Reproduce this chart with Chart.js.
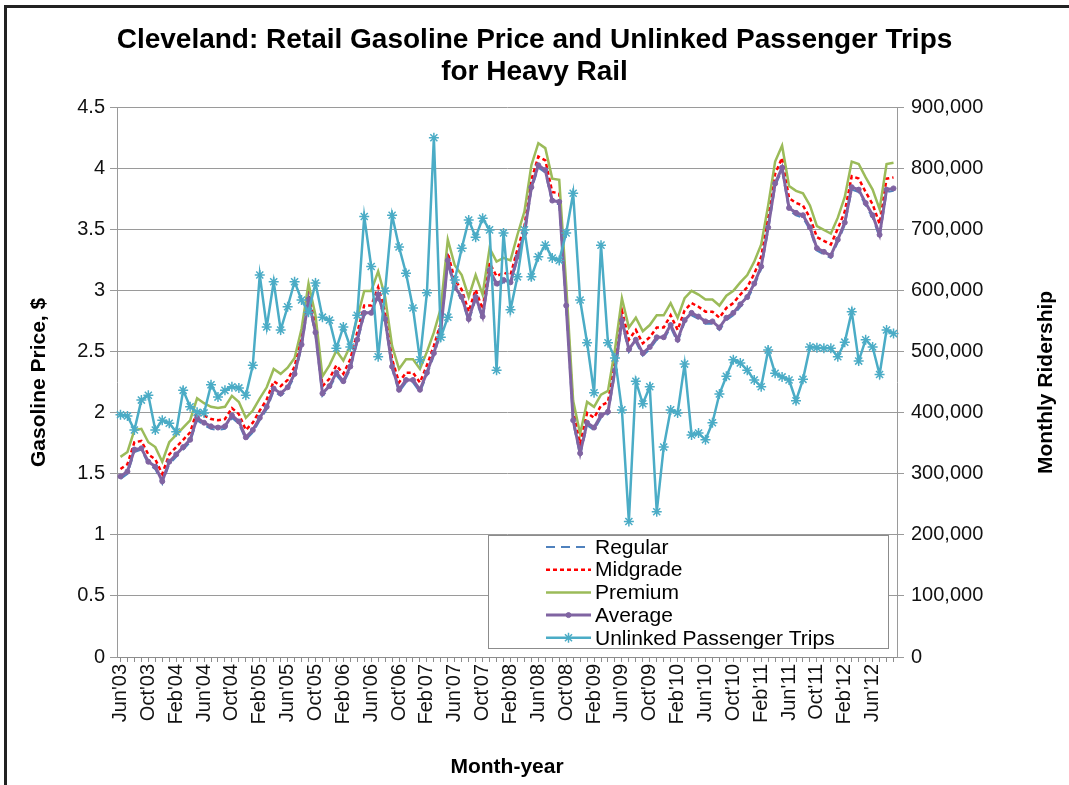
<!DOCTYPE html>
<html><head><meta charset="utf-8">
<script src="https://cdn.jsdelivr.net/npm/chart.js@4.4.0/dist/chart.umd.min.js"></script>
<style>
html,body{margin:0;padding:0;background:#fff;}
#wrap{position:relative;width:1069px;height:785px;overflow:hidden;}
#frame{position:absolute;left:4px;top:5px;width:1080px;height:800px;border-left:3px solid #222;border-top:3px solid #222;box-sizing:border-box;pointer-events:none;}
canvas{position:absolute;left:0;top:0;}
</style></head><body>
<div id="wrap"><canvas id="c" width="1069" height="785"></canvas><div id="frame"></div></div>
<script>
const categories = [
"Jun'03","Jul'03","Aug'03","Sep'03","Oct'03","Nov'03","Dec'03",
"Jan'04","Feb'04","Mar'04","Apr'04","May'04","Jun'04","Jul'04","Aug'04","Sep'04","Oct'04","Nov'04","Dec'04",
"Jan'05","Feb'05","Mar'05","Apr'05","May'05","Jun'05","Jul'05","Aug'05","Sep'05","Oct'05","Nov'05","Dec'05",
"Jan'06","Feb'06","Mar'06","Apr'06","May'06","Jun'06","Jul'06","Aug'06","Sep'06","Oct'06","Nov'06","Dec'06",
"Jan'07","Feb'07","Mar'07","Apr'07","May'07","Jun'07","Jul'07","Aug'07","Sep'07","Oct'07","Nov'07","Dec'07",
"Jan'08","Feb'08","Mar'08","Apr'08","May'08","Jun'08","Jul'08","Aug'08","Sep'08","Oct'08","Nov'08","Dec'08",
"Jan'09","Feb'09","Mar'09","Apr'09","May'09","Jun'09","Jul'09","Aug'09","Sep'09","Oct'09","Nov'09","Dec'09",
"Jan'10","Feb'10","Mar'10","Apr'10","May'10","Jun'10","Jul'10","Aug'10","Sep'10","Oct'10","Nov'10","Dec'10",
"Jan'11","Feb'11","Mar'11","Apr'11","May'11","Jun'11","Jul'11","Aug'11","Sep'11","Oct'11","Nov'11","Dec'11",
"Jan'12","Feb'12","Mar'12","Apr'12","May'12","Jun'12","Jul'12","Aug'12","Sep'12"];

const tickLabels = ["Jun'03","Oct'03","Feb'04","Jun'04","Oct'04","Feb'05","Jun'05","Oct'05","Feb'06","Jun'06",
"Oct'06","Feb'07","Jun'07","Oct'07","Feb'08","Jun'08","Oct'08","Feb'09","Jun'09","Oct'09",
"Feb'10","Jun'10","Oct'10","Feb'11","Jun'11","Oct'11","Feb'12","Jun'12"];

const priceTicks = [0,0.5,1,1.5,2,2.5,3,3.5,4,4.5];
const ridershipTicks = [0,100000,200000,300000,400000,500000,600000,700000,800000,900000];

const regular = [
1.46,1.50,1.68,1.70,1.58,1.54,1.42,1.58,1.64,1.70,
1.76,1.94,1.90,1.87,1.86,1.87,1.96,1.91,1.78,1.84,
1.94,2.03,2.18,2.14,2.19,2.30,2.54,2.91,2.64,2.14,
2.20,2.31,2.24,2.36,2.58,2.80,2.80,2.95,2.75,2.36,
2.17,2.25,2.25,2.17,2.31,2.47,2.66,3.23,3.01,2.93,
2.75,2.93,2.77,3.15,3.04,3.07,3.05,3.26,3.45,3.83,
4.01,3.97,3.72,3.71,2.86,1.92,1.65,1.90,1.86,1.96,
1.99,2.33,2.74,2.50,2.58,2.47,2.52,2.60,2.60,2.70,
2.58,2.74,2.80,2.77,2.73,2.73,2.68,2.76,2.80,2.87,
2.93,3.04,3.18,3.50,3.86,3.99,3.66,3.62,3.60,3.50,
3.33,3.30,3.27,3.40,3.54,3.83,3.81,3.70,3.60,3.44,
3.81,3.82];

const midgrade = [
1.54,1.58,1.76,1.77,1.66,1.62,1.50,1.66,1.72,1.78,
1.84,2.02,1.98,1.95,1.94,1.95,2.04,1.99,1.86,1.92,
2.02,2.11,2.26,2.22,2.27,2.38,2.62,2.99,2.72,2.22,
2.28,2.39,2.32,2.44,2.66,2.88,2.88,3.03,2.83,2.44,
2.25,2.33,2.33,2.25,2.39,2.55,2.74,3.31,3.09,3.01,
2.83,3.01,2.85,3.23,3.12,3.15,3.13,3.34,3.53,3.91,
4.10,4.07,3.81,3.80,2.96,2.02,1.75,2.00,1.96,2.06,
2.09,2.43,2.84,2.60,2.68,2.57,2.62,2.70,2.70,2.80,
2.68,2.84,2.90,2.87,2.83,2.83,2.78,2.86,2.90,2.97,
3.03,3.14,3.28,3.60,3.96,4.09,3.76,3.72,3.70,3.60,
3.44,3.41,3.38,3.51,3.65,3.94,3.92,3.81,3.71,3.55,
3.92,3.93];

const premium = [
1.64,1.68,1.86,1.87,1.76,1.72,1.60,1.76,1.82,1.88,
1.94,2.12,2.08,2.05,2.04,2.05,2.14,2.09,1.96,2.02,
2.12,2.21,2.36,2.32,2.37,2.45,2.69,3.06,2.80,2.30,
2.39,2.51,2.43,2.55,2.78,3.00,3.00,3.16,2.95,2.55,
2.36,2.44,2.44,2.36,2.50,2.66,2.86,3.42,3.21,3.13,
2.95,3.13,2.97,3.35,3.24,3.27,3.25,3.46,3.65,4.03,
4.21,4.17,3.92,3.91,3.05,2.10,1.83,2.09,2.05,2.15,
2.18,2.52,2.94,2.70,2.78,2.67,2.72,2.80,2.80,2.90,
2.78,2.94,3.00,2.97,2.93,2.93,2.88,2.96,3.00,3.07,
3.13,3.24,3.38,3.70,4.06,4.19,3.86,3.82,3.80,3.70,
3.53,3.50,3.47,3.60,3.77,4.06,4.04,3.93,3.83,3.67,
4.04,4.05];

const average = [
1.48,1.52,1.70,1.71,1.60,1.56,1.44,1.60,1.66,1.72,
1.78,1.96,1.92,1.89,1.88,1.89,1.98,1.93,1.80,1.86,
1.96,2.05,2.20,2.16,2.21,2.32,2.56,2.93,2.66,2.16,
2.22,2.33,2.26,2.38,2.60,2.82,2.82,2.97,2.77,2.38,
2.19,2.27,2.27,2.19,2.33,2.49,2.68,3.25,3.03,2.95,
2.77,2.95,2.79,3.17,3.06,3.09,3.07,3.28,3.47,3.85,
4.03,3.99,3.74,3.73,2.88,1.94,1.67,1.92,1.88,1.98,
2.01,2.35,2.76,2.52,2.60,2.49,2.54,2.62,2.62,2.72,
2.60,2.76,2.82,2.79,2.75,2.75,2.70,2.78,2.82,2.89,
2.95,3.06,3.20,3.52,3.88,4.01,3.68,3.64,3.62,3.52,
3.35,3.32,3.29,3.42,3.56,3.85,3.83,3.72,3.62,3.46,
3.83,3.84];

const unlinkedTrips = [
397000,395000,372000,421000,429000,372000,388000,383000,369000,437000,
410000,401000,400000,446000,426000,437000,443000,441000,429000,478000,
626000,541000,615000,536000,574000,615000,585000,565000,613000,557000,
552000,506000,541000,508000,560000,722000,640000,492000,600000,724000,
672000,629000,572000,487000,597000,851000,524000,557000,618000,670000,
716000,688000,719000,700000,470000,695000,569000,623000,700000,623000,
656000,675000,654000,650000,695000,760000,585000,515000,433000,675000,
515000,490000,405000,222000,452000,415000,443000,238000,344000,405000,
400000,480000,364000,367000,356000,384000,431000,460000,487000,482000,
470000,454000,443000,503000,465000,459000,454000,420000,455000,508000,
507000,506000,506000,492000,516000,566000,485000,520000,508000,463000,
536000,530000];

const FONT = "'Liberation Sans', Arial, sans-serif";

const boxLegend = {
  id: 'boxLegend',
  afterDraw(chart, args, opts) {
    const ctx = chart.ctx;
    const ca = chart.chartArea;
    const bx = ca.right - opts.rightGap - opts.width;
    const by = ca.bottom - opts.bottomGap - opts.height;
    ctx.save();
    ctx.fillStyle = '#fff';
    ctx.fillRect(bx, by, opts.width, opts.height);
    ctx.strokeStyle = '#8c8c8c';
    ctx.lineWidth = 1;
    ctx.strokeRect(bx + 0.5, by + 0.5, opts.width, opts.height);
    ctx.font = opts.fontSize + 'px ' + FONT;
    ctx.textBaseline = 'middle';
    chart.data.datasets.forEach((ds, i) => {
      const cy = by + opts.firstRow + i * opts.rowStep;
      const x0 = bx + opts.lineStart, x1 = bx + opts.lineEnd;
      ctx.save();
      ctx.strokeStyle = ds.borderColor;
      ctx.lineWidth = ds.borderWidth;
      ctx.setLineDash(ds.borderDash || []);
      ctx.beginPath(); ctx.moveTo(x0, cy); ctx.lineTo(x1, cy); ctx.stroke();
      ctx.restore();
      if (ds.pointRadius > 0) {
        ctx.save();
        ctx.fillStyle = ds.pointBackgroundColor || ds.borderColor;
        ctx.strokeStyle = ds.pointBorderColor || ds.borderColor;
        ctx.lineWidth = ds.pointBorderWidth || 1;
        Chart.helpers.drawPoint(ctx, {pointStyle: ds.pointStyle, radius: ds.pointRadius,
          borderWidth: ds.pointBorderWidth || 1, rotation: 0}, (x0 + x1) / 2, cy);
        ctx.restore();
      }
      ctx.fillStyle = '#000';
      ctx.fillText(ds.label, bx + opts.textStart, cy + 1);
    });
    ctx.restore();
  }
};

const rightTitle = {
  id: 'rightTitle',
  afterDraw(chart, args, opts) {
    const ctx = chart.ctx, ca = chart.chartArea;
    ctx.save();
    ctx.translate(chart.width - opts.offset, (ca.top + ca.bottom) / 2);
    ctx.rotate(-Math.PI / 2);
    ctx.font = 'bold ' + opts.size + 'px ' + FONT;
    ctx.fillStyle = '#000';
    ctx.textAlign = 'center';
    ctx.textBaseline = 'middle';
    ctx.fillText(opts.text, 0, 0);
    ctx.restore();
  }
};

new Chart(document.getElementById('c'), {
  type: 'line',
  data: {
    labels: categories,
    datasets: [
      {label: 'Regular', data: regular, yAxisID: 'y', borderColor: '#4F81BD', backgroundColor: '#4F81BD',
       borderWidth: 2, borderDash: [9, 6], pointRadius: 0, order: 5},
      {label: 'Midgrade', data: midgrade, yAxisID: 'y', borderColor: '#FF0000', backgroundColor: '#FF0000',
       borderWidth: 2.5, borderDash: [4, 3], pointRadius: 0, order: 4},
      {label: 'Premium', data: premium, yAxisID: 'y', borderColor: '#9BBB59', backgroundColor: '#9BBB59',
       borderWidth: 2.5, pointRadius: 0, order: 3},
      {label: 'Average', data: average, yAxisID: 'y', borderColor: '#8064A2', backgroundColor: '#8064A2',
       pointBackgroundColor: '#8064A2', pointBorderColor: '#8064A2',
       borderWidth: 3, pointStyle: 'circle', pointRadius: 2.5, pointBorderWidth: 1, order: 2},
      {label: 'Unlinked Passenger Trips', data: unlinkedTrips, yAxisID: 'y2', borderColor: '#4BACC6', backgroundColor: '#4BACC6',
       pointBorderColor: '#4BACC6', borderWidth: 2.5, pointStyle: 'star', pointRadius: 5, pointBorderWidth: 1.5, order: 1}
    ]
  },
  options: {
    responsive: false,
    animation: false,
    devicePixelRatio: 1,
    layout: {padding: {left: 0, right: 0, top: 0, bottom: 0}},
    elements: {line: {tension: 0}},
    plugins: {
      legend: {display: false},
      tooltip: {enabled: false},
      title: {
        display: true,
        text: ['Cleveland: Retail Gasoline Price and Unlinked Passenger Trips', 'for Heavy Rail'],
        color: '#000',
        font: {family: FONT, size: 28, weight: 'bold', lineHeight: 1.14},
        padding: {top: 24, bottom: 20}
      },
      boxLegend: {width: 400, height: 113, rightGap: 9, bottomGap: 9, firstRow: 12, rowStep: 22.7,
                  lineStart: 58, lineEnd: 103, textStart: 107, fontSize: 21},
      rightTitle: {text: 'Monthly Ridership', offset: 23, size: 21}
    },
    scales: {
      x: {
        type: 'category',
        offset: true,
        afterFit(s) { s.height = 128; },
        grid: {display: true, drawOnChartArea: false, color: '#8c8c8c', tickLength: 5, offset: false},
        border: {display: true, color: '#8c8c8c'},
        ticks: {
          autoSkip: false, maxRotation: 90, minRotation: 90, padding: 2,
          color: '#111', font: {family: FONT, size: 20},
          callback(v, i) { const l = categories[i]; return tickLabels.includes(l) ? l : ''; }
        },
        title: {display: true, text: 'Month-year', color: '#000',
                font: {family: FONT, size: 21, weight: 'bold'}, padding: {top: 0, bottom: 5}}
      },
      y: {
        position: 'left', min: 0, max: 4.5,
        afterFit(s) { s.width = 117; },
        afterBuildTicks(s) { s.ticks = priceTicks.map(v => ({value: v})); },
        grid: {color: '#9a9a9a', tickLength: 7},
        border: {display: true, color: '#9a9a9a'},
        ticks: {color: '#111', font: {family: FONT, size: 20}, padding: 5,
                callback(v) { return String(v); }},
        title: {display: true, text: 'Gasoline Price, $', color: '#000',
                font: {family: FONT, size: 21, weight: 'bold'}, padding: {top: 27, bottom: 0}}
      },
      y2: {
        position: 'right', min: 0, max: 900000,
        afterFit(s) { s.width = 172; },
        afterBuildTicks(s) { s.ticks = ridershipTicks.map(v => ({value: v})); },
        grid: {drawOnChartArea: false, color: '#9a9a9a', tickLength: 7},
        border: {display: true, color: '#9a9a9a'},
        ticks: {color: '#111', font: {family: FONT, size: 20}, padding: 7,
                callback(v) { return Number(v).toLocaleString('en-US'); }}
      }
    }
  },
  plugins: [boxLegend, rightTitle]
});
</script>
</body></html>
